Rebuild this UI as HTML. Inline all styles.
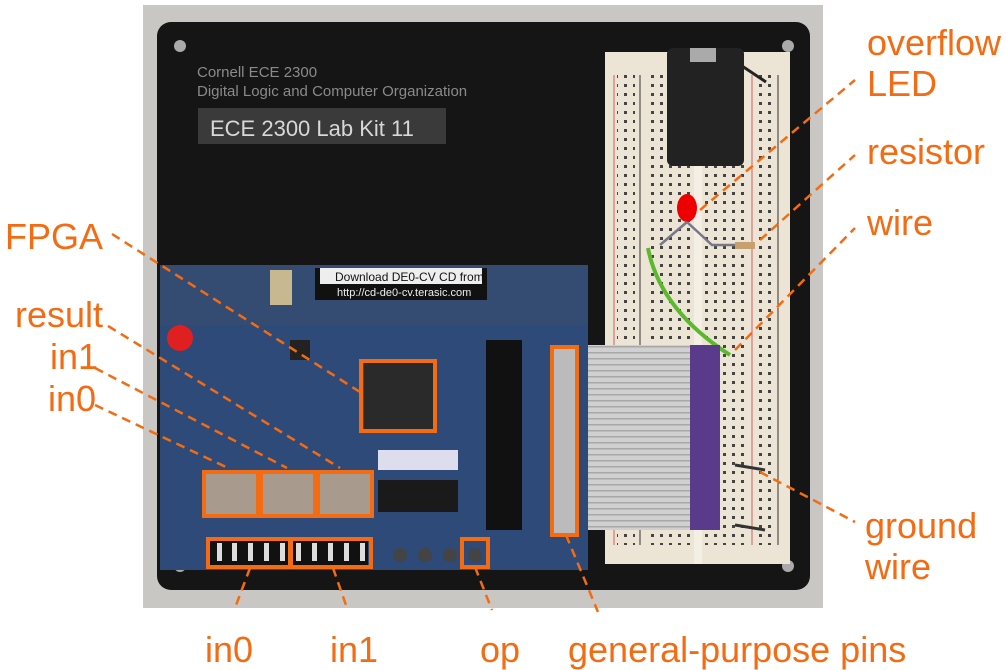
<!DOCTYPE html>
<html><head><meta charset="utf-8"><style>
html,body{margin:0;padding:0;background:#fff;}
svg{display:block;}
text{font-family:"Liberation Sans",sans-serif;fill:#f36b12;font-size:36px;}
</style></head><body>
<svg width="1006" height="670" viewBox="0 0 1006 670" xmlns="http://www.w3.org/2000/svg">
<defs>
<pattern id="holes" x="0" y="0" width="9" height="9" patternUnits="userSpaceOnUse"><rect x="3" y="3" width="3" height="3" fill="#444"/></pattern>
<pattern id="ribbon" x="0" y="0" width="140" height="6" patternUnits="userSpaceOnUse"><rect width="140" height="6" fill="#d0d0d0"/><rect y="4" width="140" height="1.5" fill="#a8a8a8"/></pattern>
</defs>
<rect x="143" y="5" width="680" height="603" fill="#c9c7c4"/>
<rect x="157" y="22" width="653" height="568" rx="14" fill="#151515"/>
<text x="197" y="77" style="font-size:15px;fill:#8a8a8a">Cornell ECE 2300</text>
<text x="197" y="96" style="font-size:15px;fill:#8a8a8a">Digital Logic and Computer Organization</text>
<rect x="198" y="108" width="248" height="36" fill="#3a3a3a"/>
<text x="210" y="136" style="font-size:22px;fill:#d8d8d8">ECE 2300 Lab Kit 11</text>
<circle cx="180" cy="46" r="6" fill="#aaa"/><circle cx="788" cy="46" r="6" fill="#aaa"/>
<circle cx="180" cy="566" r="6" fill="#aaa"/><circle cx="788" cy="566" r="6" fill="#aaa"/>
<!-- breadboard -->
<rect x="605" y="52" width="185" height="512" fill="#ece4d4"/>
<rect x="617" y="75" width="18" height="470" fill="url(#holes)"/>
<rect x="755" y="75" width="18" height="470" fill="url(#holes)"/>
<rect x="648" y="75" width="45" height="470" fill="url(#holes)"/>
<rect x="703" y="75" width="45" height="470" fill="url(#holes)"/>
<line x1="614" y1="75" x2="614" y2="545" stroke="#d06060" stroke-width="1"/>
<line x1="640" y1="75" x2="640" y2="545" stroke="#333" stroke-width="1"/>
<line x1="752" y1="75" x2="752" y2="545" stroke="#d06060" stroke-width="1"/>
<line x1="778" y1="75" x2="778" y2="545" stroke="#333" stroke-width="1"/>
<rect x="694" y="52" width="8" height="512" fill="#f4efe4"/>
<rect x="667" y="48" width="77" height="118" rx="6" fill="#222"/>
<rect x="690" y="48" width="26" height="14" fill="#aaa"/>
<path d="M736 62 L766 82" stroke="#222" stroke-width="3"/>
<ellipse cx="687" cy="208" rx="10" ry="14" fill="#e00"/>
<path d="M687 222 L660 245 M687 222 L712 245 L750 245" stroke="#778" stroke-width="2.5" fill="none"/>
<path d="M648 248 Q660 310 730 355" stroke="#5cb82c" stroke-width="4" fill="none"/>
<rect x="735" y="242" width="20" height="7" fill="#c8a070"/>
<path d="M735 465 L765 470 M735 525 L765 530" stroke="#333" stroke-width="3"/>
<!-- ribbon cable -->
<rect x="578" y="345" width="140" height="185" fill="url(#ribbon)"/>
<rect x="690" y="345" width="30" height="185" fill="#5a3a8a"/>
<!-- DE0 board -->
<rect x="160" y="265" width="428" height="305" fill="#2d4a78"/>
<rect x="160" y="265" width="428" height="60" fill="#3a4f6e" opacity="0.6"/>
<circle cx="180" cy="338" r="13" fill="#e02020"/>
<rect x="270" y="270" width="22" height="35" fill="#c8b890"/>
<rect x="315" y="268" width="172" height="32" fill="#111"/>
<rect x="320" y="268" width="162" height="16" fill="#eee"/>
<text x="335" y="281" style="font-size:12px;fill:#111">Download DE0-CV CD from</text>
<text x="337" y="296" style="font-size:11px;fill:#eee">http://cd-de0-cv.terasic.com</text>
<rect x="290" y="340" width="20" height="20" fill="#222"/>
<rect x="364" y="363" width="70" height="66" fill="#2a2a2a"/>
<rect x="378" y="450" width="80" height="20" fill="#dde"/>
<rect x="378" y="480" width="80" height="32" fill="#1a1a1a"/>
<rect x="486" y="340" width="36" height="190" fill="#111"/>
<rect x="553" y="348" width="23" height="185" fill="#bbb"/>
<rect x="206" y="474" width="164" height="40" fill="#a89a8c"/>
<rect x="210" y="540" width="158" height="26" fill="#111"/>
<g fill="#ddd"><rect x="217" y="543" width="5" height="18"/><rect x="232" y="543" width="5" height="18"/><rect x="248" y="543" width="5" height="18"/><rect x="264" y="543" width="5" height="18"/><rect x="280" y="543" width="5" height="18"/><rect x="296" y="543" width="5" height="18"/><rect x="312" y="543" width="5" height="18"/><rect x="328" y="543" width="5" height="18"/><rect x="344" y="543" width="5" height="18"/><rect x="360" y="543" width="5" height="18"/></g>
<g fill="#444"><circle cx="400" cy="555" r="7"/><circle cx="425" cy="555" r="7"/><circle cx="450" cy="555" r="7"/><circle cx="475" cy="555" r="7"/></g>
<!-- orange boxes -->
<g fill="none" stroke="#f36b12" stroke-width="4">
<rect x="361" y="361" width="74" height="70"/>
<rect x="204" y="472" width="54" height="44"/>
<rect x="261" y="472" width="54" height="44"/>
<rect x="318" y="472" width="54" height="44"/>
<rect x="208" y="539" width="82" height="28"/>
<rect x="291" y="539" width="80" height="28"/>
<rect x="462" y="539" width="26" height="28"/>
<rect x="552" y="347" width="25" height="188"/>
</g>
<g stroke="#f36b12" stroke-width="2.5" stroke-dasharray="9,6" fill="none">
<line x1="112" y1="234" x2="360" y2="392"/>
<line x1="108" y1="326" x2="340" y2="468"/>
<line x1="95" y1="368" x2="287" y2="468"/>
<line x1="95" y1="405" x2="228" y2="468"/>
<line x1="250" y1="568" x2="235" y2="608"/>
<line x1="333" y1="568" x2="347" y2="608"/>
<line x1="475" y1="567" x2="492" y2="610"/>
<line x1="566" y1="535" x2="598" y2="612"/>
<line x1="700" y1="210" x2="855" y2="80"/>
<line x1="760" y1="240" x2="855" y2="155"/>
<line x1="735" y1="350" x2="855" y2="228"/>
<line x1="760" y1="472" x2="855" y2="522"/>
</g>
<text x="867" y="55">overflow</text>
<text x="867" y="96">LED</text>
<text x="867" y="164">resistor</text>
<text x="867" y="235">wire</text>
<text x="865" y="538">ground</text>
<text x="865" y="579">wire</text>
<text x="5" y="249">FPGA</text>
<text x="15" y="327">result</text>
<text x="50" y="369">in1</text>
<text x="48" y="411">in0</text>
<text x="205" y="662">in0</text>
<text x="330" y="662">in1</text>
<text x="480" y="662">op</text>
<text x="568" y="662">general-purpose pins</text>
</svg>
</body></html>
